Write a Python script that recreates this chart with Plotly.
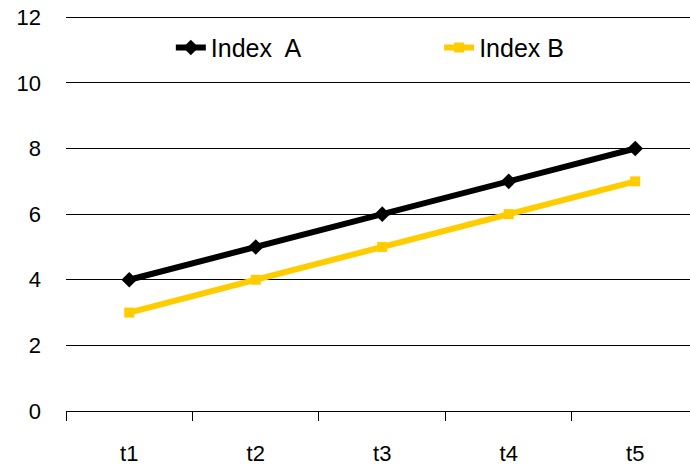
import plotly.graph_objects as go

categories = ["t1", "t2", "t3", "t4", "t5"]
index_a = [4, 5, 6, 7, 8]
index_b = [3, 4, 5, 6, 7]
y_ticks = [0, 2, 4, 6, 8, 10, 12]

FONT = "Liberation Sans, Arial, sans-serif"

fig = go.Figure()
fig.add_trace(go.Scatter(
    x=categories, y=index_a, name="Index  A", mode="lines+markers",
    line=dict(color="#000000", width=6),
    marker=dict(symbol="diamond", size=12, color="#000000"),
    legend="legend",
))
fig.add_trace(go.Scatter(
    x=categories, y=index_b, name="Index B", mode="lines+markers",
    line=dict(color="#FFCC00", width=6),
    marker=dict(symbol="square", size=10, color="#FFCC00"),
    legend="legend2",
))

legend_common = dict(
    orientation="h", yanchor="middle", xanchor="left",
    font=dict(family=FONT, size=25, color="#000000"),
    bgcolor="rgba(0,0,0,0)", itemwidth=30,
)

fig.update_layout(
    width=690, height=465,
    margin=dict(l=66, r=0, t=14, b=54, autoexpand=False),
    paper_bgcolor="white", plot_bgcolor="white",
    font=dict(family=FONT, size=22, color="#000000"),
    showlegend=True,
    legend=dict(x=0.168, y=0.915, **legend_common),
    legend2=dict(x=0.598, y=0.915, **legend_common),
    xaxis=dict(
        type="category", range=[-0.5, 4.433], tickson="boundaries",
        ticks="outside", ticklen=9, tickcolor="#000000", tickwidth=1,
        showline=True, linecolor="#000000", linewidth=1,
        showgrid=False, zeroline=False, automargin=False,
        tickfont=dict(family=FONT, size=22),
        ticklabelstandoff=23, ticklabeloverflow="allow",
    ),
    yaxis=dict(
        range=[0, 12.1], tickvals=y_ticks, showgrid=True, gridcolor="#000000",
        gridwidth=1, zeroline=False, showline=False, ticks="",
        automargin=False, ticklabeloverflow="allow",
        tickfont=dict(family=FONT, size=22),
        ticklabelstandoff=24,
    ),
)

fig.write_html(
    "out.html",
    config={"displayModeBar": False},
    post_script="document.body.style.margin='0';document.body.style.overflow='hidden';",
)
